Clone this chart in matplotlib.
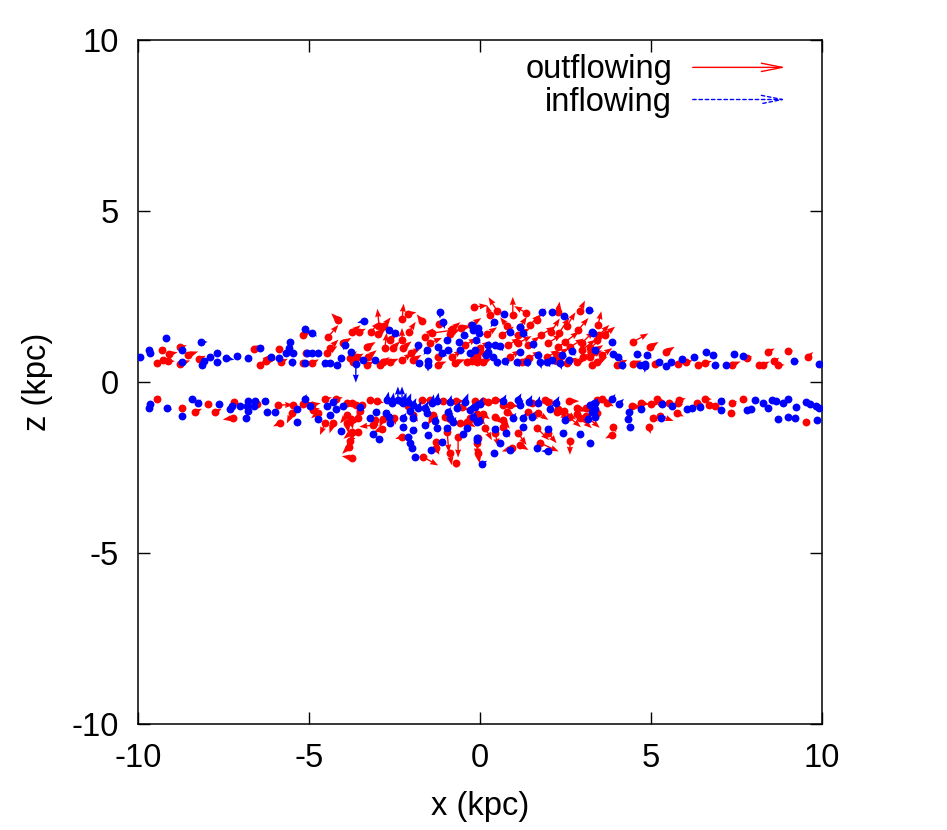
import numpy as np
import matplotlib
matplotlib.use("Agg")
import matplotlib.pyplot as plt
from matplotlib.patches import FancyArrowPatch

plt.rcParams['font.family'] = ['Liberation Sans', 'DejaVu Sans']
plt.rcParams['axes.unicode_minus'] = False

# (x, z, vx, vz) in kpc
out_above = [
    (-9.30, 0.93, 0.10, 0.10), (-9.09, 0.82, 0.25, 0.05), (-9.27, 0.64, 0.20, 0.05),
    (-9.12, 0.61, 0.20, 0.00), (-9.44, 0.55, 0.20, 0.05), (-8.77, 1.02, 0.20, 0.05),
    (-8.54, 0.79, 0.30, 0.10), (-8.77, 0.53, 0.30, 0.10), (-8.22, 0.67, 0.20, 0.10),
    (-6.61, 0.96, 0.30, 0.10), (-6.43, 0.50, 0.30, 0.30), (-6.26, 0.61, 0.30, 0.05),
    (-5.88, 0.96, 0.05, 0.10), (-5.82, 0.58, 0.20, 0.10), (-5.18, 1.37, 0.25, 0.10),
    (-5.09, 0.85, 0.20, 0.05), (-5.18, 0.56, 0.20, 0.05), (-4.91, 0.56, 0.20, 0.10),
    (-4.47, 0.85, 0.30, 0.20), (-4.39, 0.99, 0.25, 0.25), (-4.44, 1.32, 0.30, 0.35),
    (-4.15, 1.81, -0.20, 0.20), (-4.01, 1.14, 0.25, 0.15), (-3.74, 1.46, 0.25, 0.20),
    (-3.80, 0.70, 0.20, 0.20), (-3.54, 1.46, 0.20, 0.10), (-3.19, 1.46, 0.25, 0.30),
    (-2.95, 1.64, -0.05, 0.50), (-2.98, 1.40, 0.25, 0.20), (-2.81, 1.64, 0.20, 0.25),
    (-2.28, 1.84, 0.05, 0.45), (-2.11, 1.99, 0.25, 0.05), (-1.70, 1.78, -0.15, 0.20),
    (-2.08, 1.46, 0.20, 0.30), (-2.28, 1.23, 0.00, 0.35), (-2.63, 1.23, 0.20, 0.20),
    (-1.20, 1.70, 0.15, 0.15), (-1.40, 1.43, 0.70, 0.10), (-1.61, 1.32, 0.25, 0.25),
    (-0.88, 1.40, 0.30, 0.15), (-0.82, 1.55, 0.25, 0.20), (-0.56, 1.58, 0.30, 0.05),
    (-0.18, 2.19, 0.40, 0.05), (-0.26, 1.67, 0.30, 0.20), (-2.78, 0.99, 0.05, 0.45),
    (-2.54, 0.99, 0.20, 0.20), (-3.30, 1.02, 0.25, 0.15), (-3.27, 0.73, 0.25, 0.20),
    (-2.25, 0.99, 0.25, 0.20), (-2.02, 0.85, 0.30, 0.15), (-1.46, 1.14, 0.35, 0.15),
    (-3.60, 0.73, 0.20, 0.10), (-3.71, 0.58, 0.25, 0.10), (-2.84, 0.58, 0.20, 0.15),
    (-2.63, 0.58, 0.25, 0.10), (-2.28, 0.64, 0.30, 0.20), (-1.96, 0.64, 0.25, 0.15),
    (-1.23, 0.73, 0.30, 0.25), (-1.23, 0.50, 0.25, 0.10), (-0.82, 0.73, 0.30, 0.20),
    (-0.73, 0.56, 0.30, 0.10), (-0.44, 1.08, 0.35, 0.20), (-0.38, 0.58, 0.25, 0.10),
    (-0.18, 0.73, 0.30, 0.20), (-0.09, 0.58, 0.25, 0.10), (-2.92, 0.50, 0.25, 0.10),
    (-3.30, 0.50, 0.20, 0.10), (0.50, 2.08, -0.25, 0.40), (0.96, 1.96, 0.00, 0.53),
    (1.35, 2.02, -0.35, 0.20), (0.29, 1.96, -0.10, 0.30), (2.28, 2.05, 0.05, 0.30),
    (2.92, 2.08, 0.15, 0.30), (1.46, 1.67, 0.30, 0.30), (1.67, 1.81, 0.25, 0.35),
    (1.17, 1.61, 0.20, 0.30), (0.79, 1.64, -0.20, 0.25), (2.08, 1.46, 0.25, 0.40),
    (2.31, 1.43, 0.30, 0.45), (2.54, 1.64, 0.25, 0.40), (2.87, 1.52, 0.30, 0.35),
    (3.45, 1.67, 0.10, 0.40), (0.20, 1.40, 0.30, 0.20), (0.64, 1.37, 0.35, 0.25),
    (1.11, 1.37, 0.35, 0.20), (1.78, 1.37, 0.40, 0.25), (2.49, 1.17, 0.40, 0.30),
    (2.98, 1.14, 0.35, 0.35), (3.42, 1.23, 0.40, 0.30), (0.00, 0.99, 0.30, 0.20),
    (0.82, 1.08, 0.35, 0.20), (1.11, 1.14, 0.40, 0.20), (1.40, 1.08, 0.35, 0.25),
    (1.99, 1.14, 0.40, 0.25), (2.28, 1.02, 0.35, 0.25), (2.63, 1.02, 0.40, 0.25),
    (2.98, 0.94, 0.40, 0.30), (3.22, 0.99, 0.35, 0.30), (-0.09, 0.73, 0.30, 0.20),
    (0.88, 0.73, 0.30, 0.20), (1.23, 0.58, 0.30, 0.15), (1.43, 0.70, 0.35, 0.20),
    (1.96, 0.73, 0.35, 0.20), (2.25, 0.79, 0.35, 0.20), (2.25, 0.61, 0.30, 0.15),
    (2.54, 0.56, 0.30, 0.15), (2.84, 0.58, 0.30, 0.15), (3.01, 0.73, 0.35, 0.20),
    (3.22, 0.73, 0.35, 0.20), (3.42, 0.58, 0.30, 0.15), (0.09, 0.58, 0.25, 0.10),
    (-0.23, 0.61, 0.25, 0.10), (3.48, 1.37, 0.30, 0.30), (3.65, 1.37, 0.30, 0.25),
    (4.47, 1.17, 0.45, 0.25), (4.97, 1.02, 0.25, 0.15), (5.44, 0.88, 0.25, 0.15),
    (3.30, 0.88, 0.30, 0.20), (3.57, 0.79, 0.30, 0.20), (3.27, 0.50, 0.25, 0.10),
    (4.01, 0.50, 0.30, 0.15), (4.47, 0.53, 0.25, 0.10), (5.12, 0.53, 0.25, 0.10),
    (5.79, 0.53, 0.20, 0.05), (6.02, 0.58, 0.20, 0.05), (6.58, 0.56, 0.20, 0.05),
    (6.37, 0.50, 0.25, 0.05), (7.37, 0.50, 0.25, 0.10), (7.81, 0.70, 0.15, 0.05),
    (8.16, 0.50, 0.25, 0.05), (8.27, 0.50, 0.20, 0.10), (8.42, 0.88, 0.20, 0.10),
    (8.60, 0.61, 0.15, 0.10), (8.71, 0.50, 0.20, 0.00), (9.01, 0.91, 0.15, 0.00),
    (9.59, 0.73, 0.15, 0.15),
]

out_below = [
    (-9.44, -0.50, 0.10, 0.10), (-8.71, -0.76, 0.10, -0.05), (-8.33, -0.88, 0.20, 0.10),
    (-7.95, -0.64, 0.10, 0.00), (-7.75, -0.88, 0.20, 0.10), (-7.19, -0.58, 0.10, 0.05),
    (-7.22, -1.05, -0.30, -0.05), (-6.52, -0.64, -0.10, -0.10), (-5.91, -0.67, 0.45, 0.00),
    (-5.85, -1.20, -0.20, -0.10), (-5.47, -0.67, 0.10, 0.00), (-5.50, -0.91, -0.15, -0.30),
    (-5.18, -0.64, 0.25, 0.05), (-4.91, -0.67, 0.25, 0.05), (-4.74, -0.91, -0.20, -0.15),
    (-4.88, -0.82, 0.20, 0.05), (-4.53, -0.50, 0.20, 0.05), (-4.21, -0.50, 0.20, 0.05),
    (-4.53, -1.20, -0.15, -0.35), (-4.30, -1.20, -0.10, -0.30), (-3.89, -0.96, -0.20, -0.25),
    (-3.77, -1.08, 0.05, -0.30), (-3.89, -1.20, 0.05, -0.30), (-3.57, -1.46, -0.30, -0.30),
    (-3.80, -1.73, -0.10, -0.20), (-3.83, -1.90, -0.20, -0.20), (-3.74, -2.22, -0.30, 0.05),
    (-3.63, -0.67, 0.20, -0.05), (-3.89, -0.61, 0.20, 0.00), (-3.22, -0.53, 0.15, 0.00),
    (-3.01, -0.56, 0.20, -0.05), (-3.74, -0.61, 0.15, -0.05), (-3.45, -0.67, 0.10, -0.10),
    (-3.51, -0.85, -0.10, -0.25), (-3.57, -1.05, -0.15, -0.20), (-3.07, -1.11, 0.10, -0.20),
    (-2.84, -1.08, -0.10, -0.25), (-2.51, -1.05, 0.05, -0.20), (-3.13, -1.26, -0.40, -0.05),
    (-2.87, -1.37, -0.25, -0.10), (-3.74, -1.46, -0.25, -0.20), (-2.28, -1.61, -0.20, -0.05),
    (-2.11, -0.70, 0.15, -0.10), (-1.70, -0.53, 0.20, 0.00), (-1.46, -0.53, 0.20, -0.05),
    (-1.08, -0.56, 0.20, 0.00), (-0.70, -0.56, 0.25, 0.00), (-0.53, -0.73, 0.20, -0.10),
    (-0.15, -0.56, 0.20, 0.00), (-0.09, -0.94, 0.10, -0.30), (-1.96, -0.96, 0.15, -0.20),
    (-1.37, -0.96, -0.15, -0.30), (-1.02, -1.02, 0.15, -0.20), (-0.58, -1.20, 0.20, -0.10),
    (-0.38, -1.17, 0.25, -0.15), (-0.29, -1.05, 0.20, -0.20), (-0.96, -1.46, 0.05, -0.60),
    (-0.64, -1.61, 0.00, -0.60), (-0.09, -1.78, 0.00, -0.40), (-1.67, -2.19, 0.45, -0.25),
    (-1.29, -1.75, 0.10, -0.25), (-0.88, -2.08, 0.05, -0.35), (-0.70, -2.37, 0.00, -0.15),
    (-1.29, -1.93, 0.10, -0.20), (-0.06, -2.08, 0.05, -0.30), (0.09, -0.56, 0.20, 0.00),
    (0.23, -0.58, 0.20, -0.05), (0.44, -0.53, 0.25, 0.00), (0.67, -0.67, 0.20, -0.10),
    (0.88, -0.67, 0.25, -0.05), (1.52, -0.61, 0.20, -0.10), (1.90, -0.53, 0.25, 0.00),
    (1.99, -0.58, 0.25, -0.05), (2.28, -0.79, 0.20, -0.15), (2.60, -0.56, 0.30, 0.00),
    (2.84, -0.76, 0.30, -0.10), (3.10, -0.76, 0.30, -0.15), (3.42, -0.53, 0.25, -0.05),
    (0.00, -1.05, 0.15, -0.20), (0.09, -0.94, 0.20, -0.15), (0.44, -1.02, 0.25, -0.20),
    (0.67, -1.11, 0.20, -0.25), (0.79, -0.88, 0.25, -0.15), (1.40, -0.88, 0.30, -0.20),
    (1.70, -0.91, 0.30, -0.20), (2.25, -0.88, 0.35, -0.20), (2.46, -0.85, 0.35, -0.25),
    (2.60, -1.02, 0.35, -0.30), (2.84, -0.94, 0.35, -0.30), (3.10, -0.99, 0.40, -0.35),
    (2.92, -1.05, 0.35, -0.30), (0.15, -1.35, 0.20, -0.35), (0.44, -1.49, 0.10, -0.40),
    (0.67, -1.32, 0.20, -0.30), (1.11, -1.49, 0.25, -0.35), (1.67, -1.35, 0.35, -0.35),
    (1.99, -1.49, 0.25, -0.30), (-0.06, -1.64, 0.00, -0.55), (1.17, -1.84, 0.25, -0.15),
    (0.94, -1.93, -0.30, -0.10), (1.75, -1.78, 0.55, -0.25), (2.63, -1.73, 0.00, -0.40),
    (3.57, -0.50, 0.20, -0.05), (3.71, -0.61, 0.20, -0.10), (3.42, -0.91, -0.10, -0.25),
    (3.89, -1.32, 0.10, -0.15), (3.86, -1.55, -0.20, -0.10), (4.44, -0.70, 0.30, -0.05),
    (4.71, -0.61, 0.25, -0.05), (4.94, -1.32, 0.05, -0.20), (5.06, -1.05, 0.15, -0.10),
    (5.00, -0.64, 0.25, 0.00), (5.18, -0.50, 0.20, -0.05), (5.29, -0.61, 0.20, 0.00),
    (5.26, -0.99, 0.40, -0.15), (5.53, -0.61, 0.20, -0.05), (5.76, -0.91, 0.20, -0.10),
    (5.82, -0.53, 0.20, 0.05), (5.79, -0.61, 0.15, -0.05), (6.35, -0.61, 0.20, -0.05),
    (6.58, -0.50, 0.20, 0.00), (6.70, -0.67, 0.20, 0.00), (6.87, -0.70, 0.15, 0.00),
    (7.37, -0.61, 0.15, 0.05), (7.34, -0.91, 0.00, 0.05), (7.69, -0.50, 0.10, 0.00),
    (9.53, -1.17, 0.05, 0.00),
]

in_above = [
    (-9.94, 0.73, 0.10, 0.00), (-9.68, 0.94, 0.10, -0.05), (-9.65, 0.85, 0.10, 0.00),
    (-9.18, 1.29, 0.10, 0.00), (-8.71, 0.94, 0.10, -0.05), (-8.71, 0.58, 0.10, 0.00),
    (-8.16, 1.17, 0.20, 0.00), (-8.13, 0.50, 0.10, 0.00), (-8.07, 0.61, 0.10, 0.00),
    (-7.89, 0.73, 0.10, 0.00), (-7.69, 0.85, 0.10, 0.00), (-7.69, 0.58, 0.15, 0.00),
    (-7.43, 0.70, 0.25, -0.05), (-7.11, 0.76, 0.10, 0.00), (-6.78, 0.70, 0.10, 0.00),
    (-6.43, 0.99, 0.10, 0.00), (-6.11, 0.73, 0.10, 0.00), (-5.88, 0.70, 0.10, 0.00),
    (-5.67, 0.85, 0.10, -0.05), (-5.56, 1.17, 0.10, -0.05), (-5.58, 0.99, 0.10, -0.10),
    (-5.47, 0.85, 0.10, -0.10), (-5.50, 0.58, 0.05, -0.15), (-5.12, 1.55, 0.20, -0.15),
    (-4.91, 1.43, 0.15, -0.10), (-5.06, 0.85, 0.10, 0.00), (-4.91, 0.85, 0.10, 0.00),
    (-4.74, 0.85, 0.10, -0.05), (-5.12, 0.56, 0.10, -0.05), (-4.53, 0.56, -0.05, -0.15),
    (-4.39, 0.56, -0.20, -0.10), (-4.18, 0.50, -0.10, -0.10), (-4.06, 0.70, -0.05, -0.15),
    (-3.95, 1.08, -0.05, -0.15), (-3.77, 0.88, 0.05, -0.15), (-3.63, 0.53, 0.00, -0.55),
    (-3.39, 1.78, -0.20, -0.05), (-2.66, 1.52, 0.15, -0.05), (-2.49, 1.43, 0.15, -0.10),
    (-1.17, 2.05, 0.00, -0.20), (-1.08, 1.75, 0.05, -0.20), (-0.47, 1.37, 0.15, -0.05),
    (-0.97, 1.23, 0.10, -0.10), (-0.61, 1.17, 0.10, -0.10), (-1.81, 1.08, -0.05, -0.20),
    (-1.55, 0.94, -0.10, -0.15), (-1.23, 1.02, 0.10, -0.10), (-3.42, 0.64, 0.10, -0.05),
    (-3.07, 0.64, 0.15, -0.05), (-1.78, 0.56, -0.10, -0.10), (-1.52, 0.61, 0.05, -0.20),
    (-1.52, 0.50, 0.00, -0.20), (-1.11, 0.85, 0.15, -0.10), (-0.94, 0.94, 0.15, -0.05),
    (-0.58, 0.94, 0.15, -0.05), (-0.29, 0.85, 0.10, -0.10), (-0.12, 1.23, 0.15, -0.10),
    (-0.06, 1.58, -0.05, -0.15), (0.70, 1.99, 0.10, -0.10), (0.41, 1.75, -0.10, -0.15),
    (1.81, 2.05, 0.05, -0.15), (2.11, 2.05, 0.10, -0.05), (2.46, 1.93, 0.15, -0.10),
    (3.19, 2.11, 0.15, -0.05), (1.17, 1.61, 0.10, -0.15), (-0.23, 1.67, 0.10, -0.10),
    (-0.20, 1.52, 0.10, -0.10), (-0.03, 1.43, 0.15, -0.05), (0.88, 1.46, 0.15, -0.10),
    (1.26, 1.43, 0.15, -0.10), (3.30, 1.43, 0.10, -0.10), (0.23, 1.08, 0.10, -0.10),
    (0.44, 1.08, 0.10, -0.15), (0.23, 0.88, 0.10, -0.10), (0.58, 1.05, 0.10, -0.15),
    (1.55, 1.11, 0.05, -0.15), (2.69, 0.91, 0.10, -0.15), (3.36, 0.94, 0.10, -0.15),
    (-0.15, 0.94, 0.10, -0.10), (0.18, 0.79, 0.10, -0.10), (0.38, 0.73, 0.10, -0.10),
    (0.50, 0.58, 0.05, -0.15), (0.73, 0.61, 0.10, -0.15), (1.17, 0.88, 0.10, -0.10),
    (1.08, 0.58, 0.10, -0.15), (1.37, 0.58, 0.05, -0.15), (1.70, 0.79, 0.10, -0.10),
    (1.75, 0.58, 0.05, -0.20), (1.96, 0.58, 0.10, -0.15), (2.11, 0.64, 0.10, -0.15),
    (2.34, 0.56, 0.05, -0.20), (2.40, 0.79, 0.10, -0.15), (2.60, 0.64, 0.10, -0.15),
    (3.27, 1.46, 0.10, -0.10), (3.86, 1.17, 0.10, -0.10), (3.89, 0.82, 0.20, -0.05),
    (4.04, 0.73, 0.15, -0.10), (4.59, 0.82, 0.15, -0.05), (4.88, 0.79, 0.15, -0.10),
    (4.15, 0.50, 0.05, -0.15), (4.68, 0.50, 0.10, -0.10), (4.82, 0.53, 0.10, -0.10),
    (4.82, 0.47, 0.00, -0.20), (5.23, 0.58, 0.10, -0.05), (5.44, 0.47, 0.10, -0.05),
    (5.58, 0.58, 0.10, 0.00), (5.91, 0.67, 0.10, 0.00), (6.26, 0.73, 0.10, 0.00),
    (6.61, 0.88, 0.10, 0.00), (6.81, 0.79, 0.10, 0.00), (6.87, 0.50, 0.10, -0.05),
    (7.19, 0.50, 0.10, -0.05), (7.43, 0.82, 0.10, 0.00), (7.69, 0.76, 0.15, 0.00),
    (9.18, 0.61, 0.15, 0.00), (9.91, 0.53, 0.10, 0.00),
]

in_below = [
    (-9.65, -0.64, 0.10, 0.00), (-9.68, -0.76, 0.10, 0.00), (-9.15, -0.76, 0.15, -0.05),
    (-8.71, -0.99, 0.10, 0.00), (-8.42, -0.50, 0.15, 0.00), (-8.25, -0.61, 0.10, 0.10),
    (-7.63, -0.64, 0.10, 0.00), (-7.31, -0.79, 0.10, 0.00), (-7.25, -0.70, 0.10, 0.05),
    (-7.02, -0.70, 0.10, 0.00), (-6.78, -0.56, 0.05, 0.10), (-6.81, -0.70, 0.10, 0.00),
    (-6.78, -0.85, 0.10, 0.00), (-6.58, -0.56, 0.00, 0.10), (-6.61, -0.70, 0.10, 0.05),
    (-6.84, -1.05, 0.10, 0.00), (-6.29, -0.56, 0.10, 0.10), (-6.23, -0.88, 0.10, 0.05),
    (-5.99, -0.88, 0.10, 0.05), (-5.35, -0.79, 0.10, 0.05), (-5.35, -1.17, 0.10, 0.05),
    (-5.12, -0.50, 0.05, 0.15), (-4.97, -0.70, 0.10, 0.05), (-4.74, -1.08, 0.10, 0.05),
    (-4.47, -0.70, 0.10, 0.05), (-4.30, -0.58, 0.15, 0.10), (-4.21, -0.79, 0.10, 0.05),
    (-4.01, -0.70, 0.10, 0.10), (-4.39, -0.96, 0.10, 0.05), (-4.06, -1.43, 0.10, 0.00),
    (-3.51, -0.73, 0.10, 0.05), (-3.22, -1.05, 0.10, 0.10), (-3.04, -0.88, 0.10, 0.10),
    (-2.75, -0.91, 0.10, 0.10), (-2.66, -1.02, 0.10, 0.10), (-2.63, -1.20, 0.10, 0.10),
    (-3.13, -1.52, 0.10, 0.05), (-2.95, -1.67, 0.10, 0.05), (-2.72, -0.53, 0.05, 0.25),
    (-2.57, -0.61, 0.05, 0.30), (-2.40, -0.53, 0.00, 0.40), (-2.28, -0.58, 0.00, 0.45),
    (-2.25, -0.61, 0.10, 0.30), (-2.11, -0.58, 0.10, 0.25), (-1.96, -0.67, 0.10, 0.20),
    (-1.81, -0.76, 0.10, 0.20), (-1.61, -0.76, 0.10, 0.20), (-1.40, -0.61, 0.05, 0.25),
    (-1.26, -0.56, 0.05, 0.25), (-0.88, -0.58, 0.05, 0.20), (-0.67, -0.76, 0.10, 0.20),
    (-0.44, -0.58, 0.10, 0.25), (-0.29, -0.82, 0.10, 0.20), (-0.15, -0.73, 0.10, 0.20),
    (-2.25, -1.05, 0.10, 0.15), (-1.96, -1.05, 0.10, 0.15), (-2.05, -0.85, 0.10, 0.15),
    (-1.55, -0.91, 0.10, 0.15), (-1.32, -1.14, 0.10, 0.15), (-1.26, -1.35, 0.10, 0.10),
    (-0.94, -0.88, 0.10, 0.15), (-0.88, -1.05, 0.10, 0.15), (-0.79, -1.17, 0.10, 0.15),
    (-0.38, -1.35, 0.10, 0.10), (-0.09, -1.17, 0.10, 0.15), (-0.96, -1.35, 0.10, 0.10),
    (-0.50, -1.52, 0.10, 0.10), (-0.09, -1.64, 0.10, 0.10), (-2.25, -1.32, 0.10, 0.10),
    (-1.96, -1.40, 0.10, 0.10), (-1.52, -1.55, 0.10, 0.10), (-2.11, -1.61, 0.15, 0.00),
    (-2.05, -1.78, 0.10, 0.05), (-1.99, -1.93, 0.10, 0.05), (-1.90, -2.19, 0.15, 0.00),
    (-1.11, -1.75, 0.10, 0.10), (-1.43, -1.99, 0.10, 0.05), (-1.61, -1.26, 0.10, 0.10),
    (0.67, -0.56, 0.10, 0.20), (1.11, -0.53, 0.10, 0.20), (1.17, -0.67, 0.10, 0.15),
    (1.43, -0.58, 0.10, 0.20), (1.70, -0.61, 0.05, 0.20), (2.22, -0.61, 0.10, 0.20),
    (2.05, -0.79, 0.10, 0.15), (3.22, -0.67, 0.10, 0.15), (3.36, -0.79, 0.10, 0.15),
    (0.00, -0.64, 0.10, 0.20), (-0.20, -1.02, 0.10, 0.15), (-0.03, -1.14, 0.10, 0.15),
    (0.96, -1.05, 0.10, 0.15), (1.26, -1.05, 0.10, 0.15), (1.52, -1.02, 0.10, 0.15),
    (2.49, -1.11, 0.10, 0.15), (3.16, -1.08, 0.10, 0.15), (3.36, -1.02, 0.10, 0.15),
    (0.44, -1.37, 0.10, 0.10), (0.76, -1.49, 0.10, 0.10), (1.26, -1.32, 0.10, 0.10),
    (1.99, -1.37, 0.10, 0.10), (2.43, -1.49, 0.10, 0.10), (2.92, -1.52, 0.10, 0.10),
    (-0.09, -1.70, 0.10, 0.10), (0.88, -1.99, 0.10, 0.05), (0.58, -1.78, 0.10, 0.05),
    (0.41, -2.08, 0.10, 0.05), (0.06, -2.40, 0.15, 0.10), (1.99, -2.02, -0.20, 0.00),
    (1.67, -1.93, 0.10, 0.05), (3.22, -1.78, 0.10, 0.05), (3.36, -0.61, 0.10, 0.15),
    (3.86, -0.50, 0.10, 0.15), (3.27, -0.88, 0.10, 0.10), (4.06, -0.64, 0.15, 0.15),
    (4.36, -0.88, 0.10, 0.10), (4.33, -1.08, 0.10, 0.10), (4.39, -1.32, 0.10, 0.05),
    (4.71, -0.79, 0.10, 0.10), (5.32, -0.64, 0.10, 0.10), (5.29, -1.05, 0.15, 0.05),
    (5.61, -0.70, 0.10, 0.10), (6.05, -0.79, 0.10, 0.05), (6.20, -0.76, 0.10, 0.05),
    (6.43, -0.73, 0.10, 0.10), (7.05, -0.56, 0.10, 0.10), (7.05, -0.82, 0.10, 0.05),
    (7.81, -0.82, 0.10, 0.05), (7.92, -0.79, 0.10, 0.05), (8.04, -0.53, 0.10, 0.05),
    (8.27, -0.61, 0.10, 0.05), (8.42, -0.76, 0.10, 0.05), (8.54, -0.53, 0.10, 0.05),
    (8.65, -0.56, 0.10, 0.05), (8.86, -0.61, 0.10, 0.05), (9.01, -0.50, 0.10, 0.05),
    (9.24, -0.73, 0.10, 0.05), (8.71, -1.08, 0.10, 0.05), (9.01, -1.02, 0.10, 0.05),
    (9.21, -1.05, 0.10, 0.05), (9.53, -0.58, 0.10, 0.05), (9.65, -0.64, 0.10, 0.05),
    (9.82, -0.70, 0.10, 0.05), (9.91, -0.76, 0.10, 0.05), (9.85, -1.11, 0.10, 0.05),
]

ticks = [-10, -5, 0, 5, 10]

outflow = np.array(out_above + out_below)
inflow = np.array(in_above + in_below)

fig = plt.figure(figsize=(9.47, 8.30), dpi=100)
ax = fig.add_axes([0.1457, 0.1277, 0.7223, 0.8241])

qkw = dict(angles='xy', scale_units='xy', scale=1, width=0.002,
           headwidth=4.5, headlength=6, headaxislength=5.5)

# outflowing gas: red
ax.quiver(outflow[:, 0], outflow[:, 1], outflow[:, 2], outflow[:, 3],
          color='#ff0000', zorder=2, **qkw)
ax.scatter(outflow[:, 0], outflow[:, 1], s=32, color='#ff0000',
           linewidths=0, zorder=3)

# inflowing gas: blue
ax.quiver(inflow[:, 0], inflow[:, 1], inflow[:, 2], inflow[:, 3],
          color='#0000ff', zorder=4, **qkw)
ax.scatter(inflow[:, 0], inflow[:, 1], s=32, color='#0000ff',
           linewidths=0, zorder=5)

ax.set_xlim(-10, 10)
ax.set_ylim(-10, 10)
ax.set_xticks(ticks)
ax.set_yticks(ticks)
ax.tick_params(direction='in', length=8.5, width=1, top=True, right=True,
               labelsize=23.5, pad=14)
for s in ax.spines.values():
    s.set_linewidth(1.1)

ax.set_xlabel('x (kpc)', fontsize=23.5, labelpad=12)
ax.set_ylabel('z (kpc)', fontsize=23.5, labelpad=13)

# key in the upper right corner
ax.text(0.781, 0.957, 'outflowing', transform=ax.transAxes, ha='right',
        va='center', fontsize=23.5)
ax.text(0.781, 0.909, 'inflowing', transform=ax.transAxes, ha='right',
        va='center', fontsize=23.5)
ax.add_patch(FancyArrowPatch((0.811, 0.960), (0.947, 0.960), transform=ax.transAxes,
                             arrowstyle='->,head_length=15,head_width=3',
                             mutation_scale=1, color='#ff0000', lw=1,
                             shrinkA=0, shrinkB=0))
ax.add_patch(FancyArrowPatch((0.811, 0.913), (0.947, 0.913), transform=ax.transAxes,
                             arrowstyle='->,head_length=15,head_width=3',
                             mutation_scale=1, color='#0000ff', lw=1,
                             linestyle=(0, (2.5, 2)), shrinkA=0, shrinkB=0))

fig.savefig('out.png', dpi=100)
